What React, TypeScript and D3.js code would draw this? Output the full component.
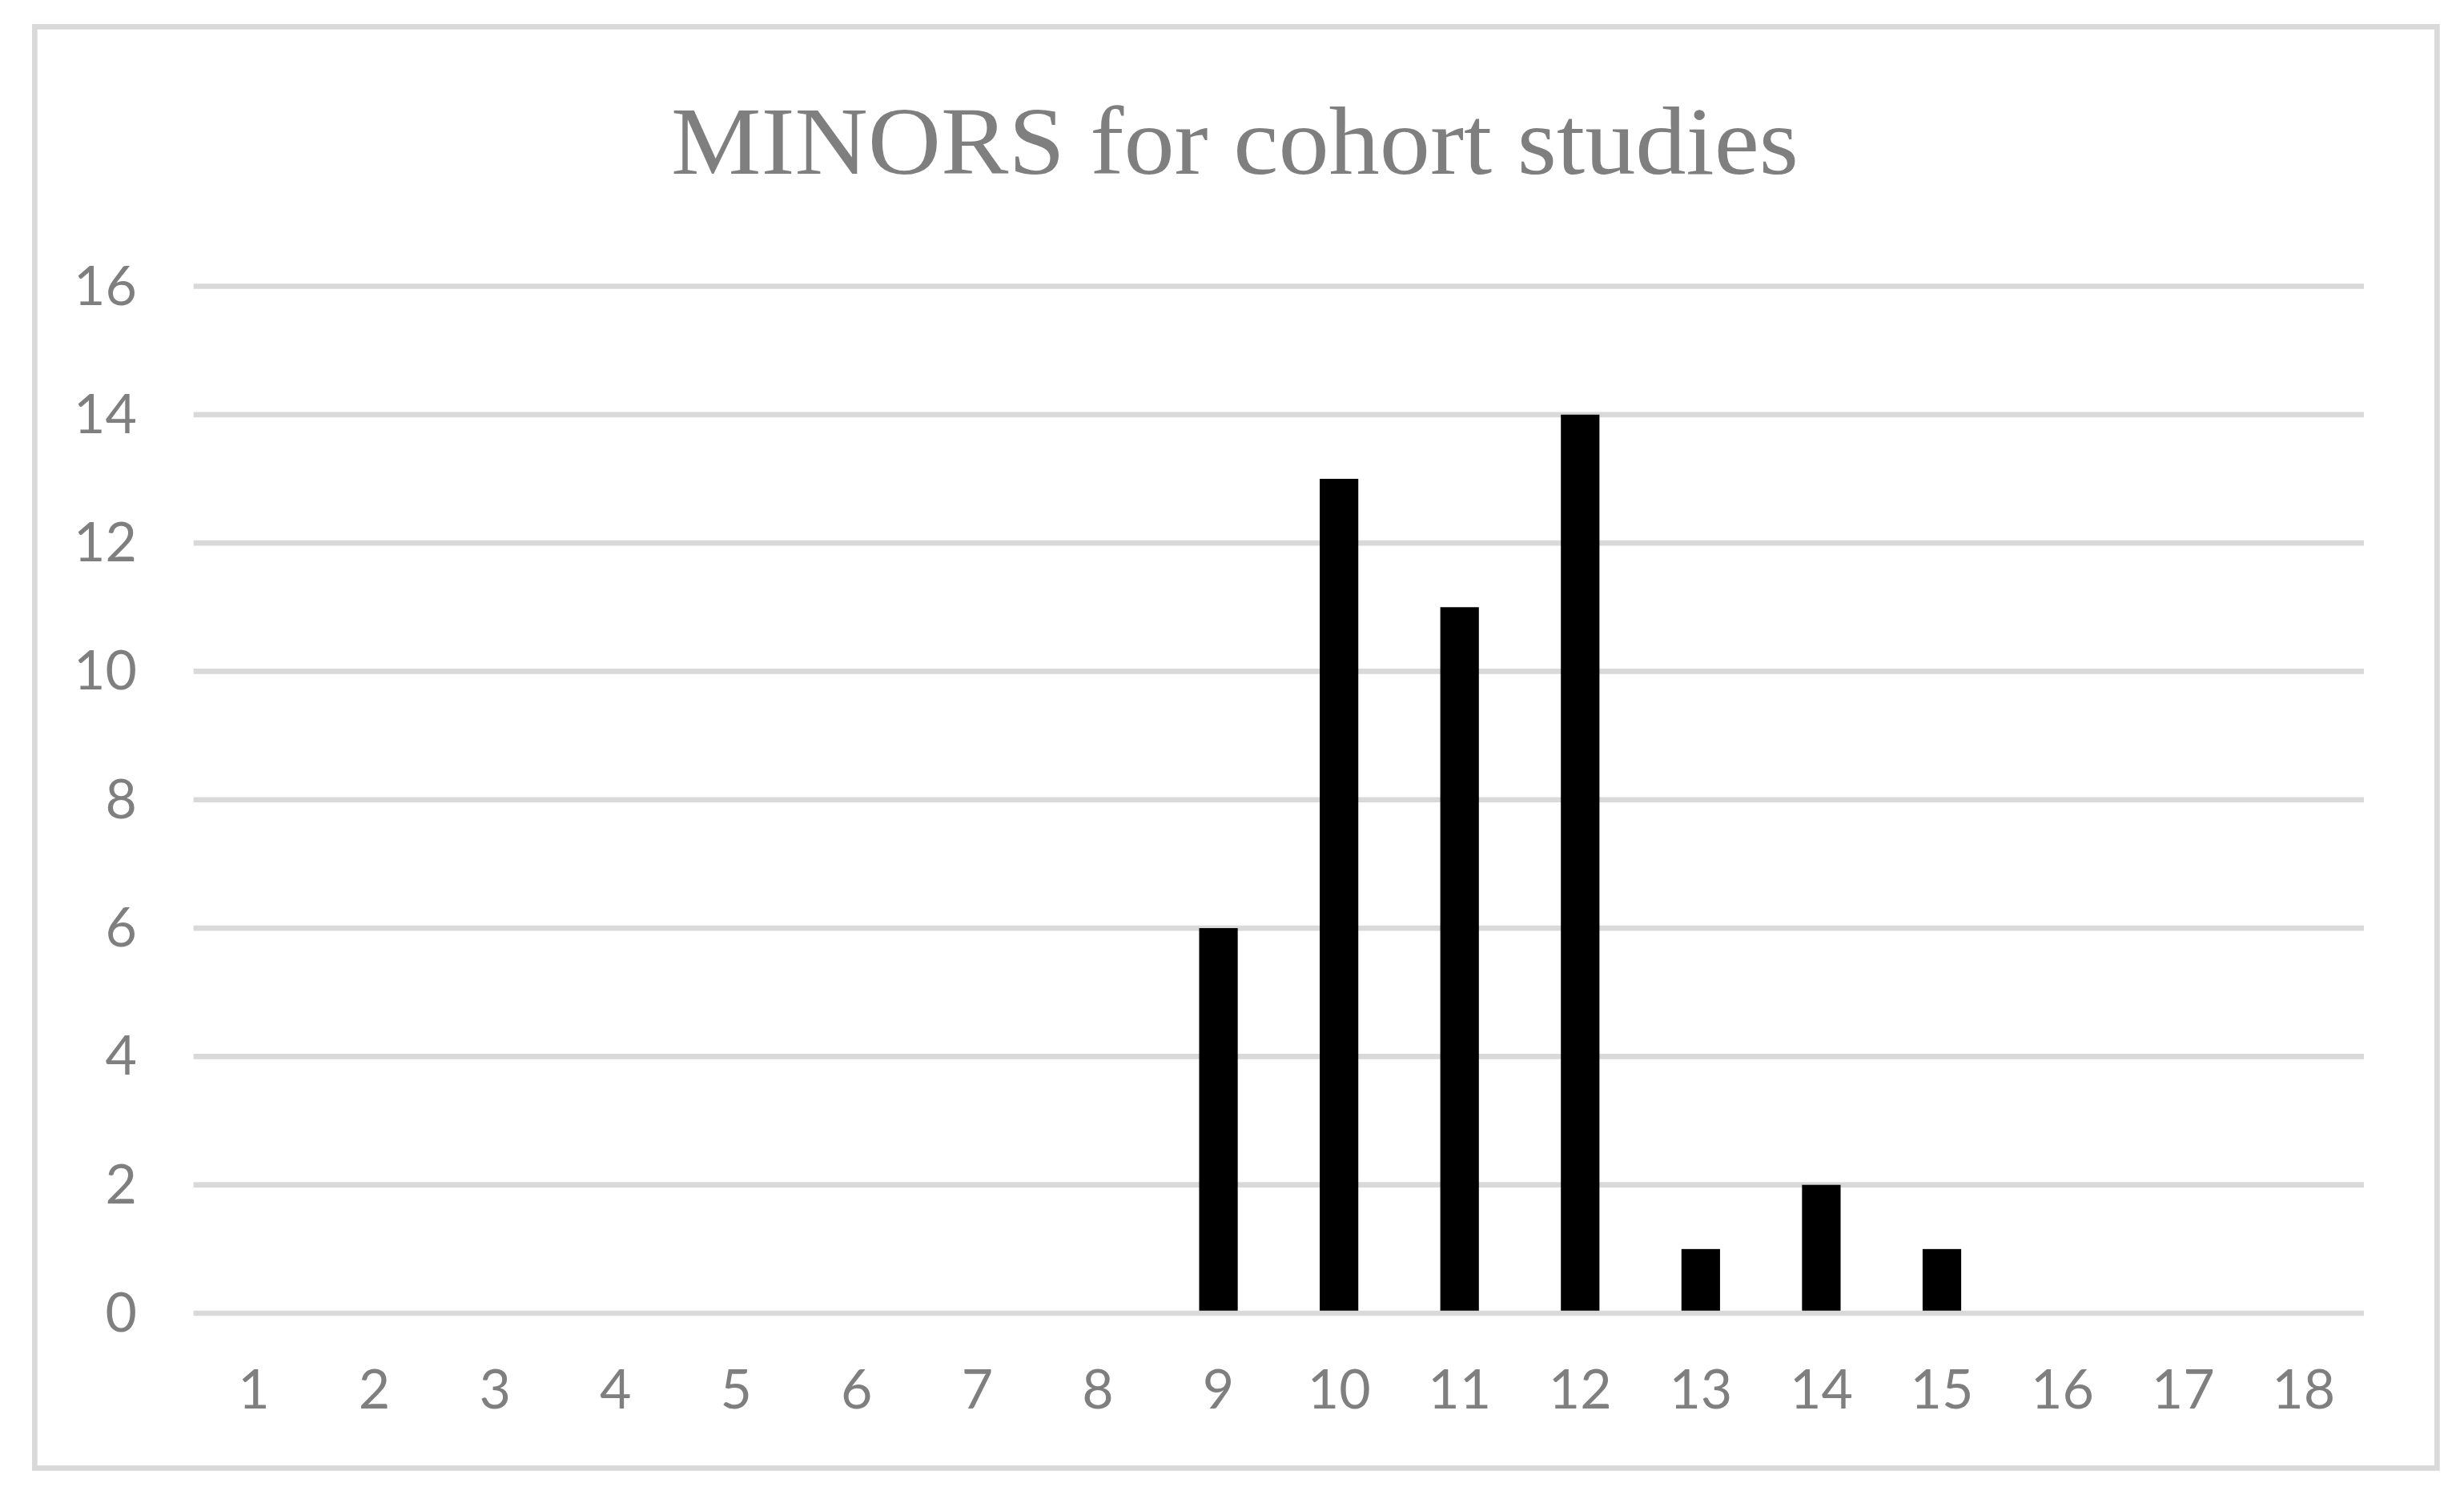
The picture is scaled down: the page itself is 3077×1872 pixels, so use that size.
import React from "react";
import * as d3 from "d3";

const categories: string[] = ["1","2","3","4","5","6","7","8","9","10","11","12","13","14","15","16","17","18"];
const counts: number[] = [0,0,0,0,0,0,0,0,6,13,11,14,1,2,1,0,0,0];
const yTicks: number[] = [0,2,4,6,8,10,12,14,16];
const title = "MINORS for cohort studies";

const W = 3077;
const H = 1872;
const plotLeft = 241.7;
const plotRight = 2952;
const yZero = 1640;
const yTop = 357.5;
const GRID = "#d9d9d9";
const TEXT = "#7f7f7f";
const tickFont = "Lato, 'Open Sans', sans-serif";

export default function App() {
  const x = d3.scaleBand<string>()
    .domain(categories)
    .range([plotLeft, plotRight])
    .paddingInner(0.68)
    .paddingOuter(0.34);
  const y = d3.scaleLinear().domain([0, 16]).range([yZero, yTop]);

  return (
    <div style={{ position: "absolute", left: 0, top: 0 }}>
      <svg width={W} height={H} style={{ display: "block", background: "#fff" }}>
        <rect x={0} y={0} width={W} height={H} fill="#fff" />
        <rect x={43.4} y={33.4} width={3000} height={1800} fill="#fff" stroke={GRID} strokeWidth={6.7} />
        <text
          x={1542}
          y={217}
          textAnchor="middle"
          fontFamily="'Liberation Serif', 'DejaVu Serif', serif"
          fontSize={121}
          fill={TEXT}
          textLength={1408}
          lengthAdjust="spacingAndGlyphs"
        >
          {title}
        </text>
        {yTicks.filter(t => t !== 0).map(t => (
          <line key={"g" + t} x1={plotLeft} x2={plotRight} y1={y(t)} y2={y(t)} stroke={GRID} strokeWidth={6.7} />
        ))}
        {categories.map((c, i) => (
          <rect
            key={"b" + c}
            x={x(c)!}
            y={y(counts[i])}
            width={x.bandwidth()}
            height={yZero - y(counts[i])}
            fill="#000"
          />
        ))}
        <line x1={plotLeft} x2={plotRight} y1={y(0)} y2={y(0)} stroke={GRID} strokeWidth={6.7} />
        {yTicks.map(t => (
          <text key={"yl" + t} x={171} y={y(t) + 23} textAnchor="end" fontFamily={tickFont} fontSize={68} fill={TEXT}>
            {t}
          </text>
        ))}
        {categories.map(c => (
          <text key={"xl" + c} x={x(c)! + x.bandwidth() / 2} y={1759} textAnchor="middle" fontFamily={tickFont} fontSize={68} fill={TEXT}>
            {c}
          </text>
        ))}
      </svg>
    </div>
  );
}
